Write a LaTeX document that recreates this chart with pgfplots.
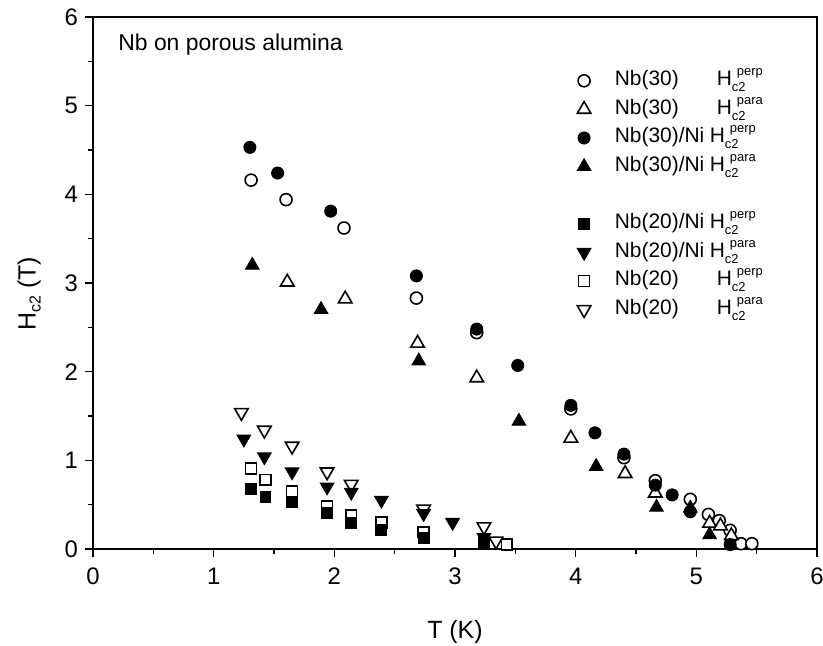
\documentclass[border=0pt]{standalone}
\usepackage{fontspec}
\setmainfont{Liberation Sans}
\usepackage{pgfplots}
\pgfplotsset{compat=1.18}
\newcommand{\sub}[1]{\raisebox{-2.5bp}{\fontsize{8}{9}\selectfont #1}}
\newcommand{\Hc}[1]{H\rlap{\raisebox{-3bp}{\fontsize{6.5}{7}\selectfont c2}}\hspace{2.5bp}\raisebox{5bp}{\fontsize{6.5}{7}\selectfont #1}}
\pgfplotsset{
  ocirc/.style={only marks, mark=*, mark size=3bp, mark options={fill=white, draw=black, line width=0.8bp}},
  fcirc/.style={only marks, mark=*, mark size=3bp, mark options={fill=black, draw=black, line width=0.5bp}},
  otri/.style={only marks, mark=triangle*, mark size=3.9bp, mark options={fill=white, draw=black, line width=0.8bp}},
  ftri/.style={only marks, mark=triangle*, mark size=3.9bp, mark options={fill=black, draw=black, line width=0.5bp}},
  odtri/.style={only marks, mark=triangle*, mark size=3.9bp, mark options={fill=white, draw=black, line width=0.8bp, rotate=180}},
  fdtri/.style={only marks, mark=triangle*, mark size=3.9bp, mark options={fill=black, draw=black, line width=0.5bp, rotate=180}},
  osq/.style={only marks, mark=square*, mark size=2.7bp, mark options={fill=white, draw=black, line width=0.8bp}},
  fsq/.style={only marks, mark=square*, mark size=2.7bp, mark options={fill=black, draw=black, line width=0.5bp}},
}
\begin{document}
\begin{tikzpicture}
\begin{axis}[
  scale only axis, width=362bp, height=266bp,
  xmin=0, xmax=6, ymin=0, ymax=6,
  xtick={0,1,2,3,4,5,6}, ytick={0,1,2,3,4,5,6},
  minor tick num=1,
  tick align=outside, tick pos=left,
  major tick length=4bp, minor tick length=2.5bp,
  every tick/.style={black, line width=0.8bp},
  axis line style={line width=0.9bp},
  tick label style={font=\fontsize{12}{14}\selectfont},
  xticklabel style={yshift=-2bp},
  /pgf/number format/assume math mode=true,
  xlabel={T (K)}, ylabel={H\sub{c2} (T)},
  every axis x label/.style={at={(axis description cs:0.5,-0.156)}, anchor=center, font=\fontsize{12.5}{14}\selectfont},
  every axis y label/.style={at={(axis description cs:-0.088,0.48)}, anchor=center, rotate=90, font=\fontsize{12.5}{14}\selectfont},
  legend style={draw=none, fill=none, at={(rel axis cs:0.646,0.909)}, anchor=north west,
    font=\fontsize{10.5}{12}\selectfont, row sep=3.3bp, column sep=12bp,
    nodes={inner sep=0pt, text height=8bp, text depth=3bp}},
  legend cell align=left,
]
% open symbols first (filled drawn on top)
\addplot[ocirc, forget plot] coordinates {(1.31,4.16)(1.60,3.94)(2.08,3.62)(2.68,2.83)(3.18,2.44)(3.96,1.58)(4.40,1.03)(4.66,0.77)(4.95,0.56)(5.10,0.39)(5.19,0.32)(5.28,0.21)(5.37,0.06)(5.46,0.06)};
\addplot[otri, forget plot] coordinates {(1.61,3.01)(2.09,2.82)(2.69,2.32)(3.18,1.93)(3.96,1.25)(4.41,0.85)(4.66,0.63)(5.11,0.29)(5.20,0.26)(5.29,0.15)};
\addplot[osq, forget plot] coordinates {(1.31,0.91)(1.43,0.78)(1.65,0.65)(1.94,0.48)(2.14,0.38)(2.39,0.30)(2.74,0.19)(3.43,0.05)};
\addplot[odtri, forget plot] coordinates {(1.23,1.54)(1.42,1.34)(1.65,1.16)(1.94,0.87)(2.14,0.73)(2.74,0.45)(3.24,0.25)(3.34,0.09)};
\addplot[fcirc, forget plot] coordinates {(1.30,4.53)(1.53,4.24)(1.97,3.81)(2.68,3.08)(3.18,2.48)(3.52,2.07)(3.96,1.62)(4.16,1.31)(4.40,1.07)(4.66,0.72)(4.80,0.61)(4.95,0.42)(5.28,0.05)};
\addplot[ftri, forget plot] coordinates {(1.32,3.20)(1.89,2.70)(2.70,2.12)(3.53,1.44)(4.17,0.93)(4.67,0.47)(4.95,0.46)(5.11,0.16)};
\addplot[fsq, forget plot] coordinates {(1.31,0.68)(1.43,0.59)(1.65,0.53)(1.94,0.41)(2.14,0.29)(2.39,0.21)(2.74,0.12)(3.24,0.07)};
\addplot[fdtri, forget plot] coordinates {(1.25,1.24)(1.42,1.04)(1.65,0.87)(1.94,0.70)(2.14,0.64)(2.39,0.55)(2.74,0.40)(2.98,0.30)(3.24,0.13)};
% legend
\addlegendimage{ocirc}\addlegendentry{\makebox[51bp][l]{Nb(30)}\Hc{perp}}
\addlegendimage{otri}\addlegendentry{\makebox[51bp][l]{Nb(30)}\Hc{para}}
\addlegendimage{fcirc}\addlegendentry{\makebox[47.5bp][l]{Nb(30)/Ni}\Hc{perp}}
\addlegendimage{ftri}\addlegendentry{\makebox[47.5bp][l]{Nb(30)/Ni}\Hc{para}}
\addlegendimage{empty legend}\addlegendentry{}
\addlegendimage{fsq}\addlegendentry{\makebox[47.5bp][l]{Nb(20)/Ni}\Hc{perp}}
\addlegendimage{fdtri}\addlegendentry{\makebox[47.5bp][l]{Nb(20)/Ni}\Hc{para}}
\addlegendimage{osq}\addlegendentry{\makebox[51bp][l]{Nb(20)}\Hc{perp}}
\addlegendimage{odtri}\addlegendentry{\makebox[51bp][l]{Nb(20)}\Hc{para}}
\node[anchor=base west, inner sep=0pt, font=\fontsize{11.5}{13}\selectfont] at (rel axis cs:0.0345,0.9365) {Nb on porous alumina};
\end{axis}
\pgfresetboundingbox
\useasboundingbox (-46.5bp,-48.5bp) rectangle (365bp,274.5bp);
\end{tikzpicture}
\end{document}
